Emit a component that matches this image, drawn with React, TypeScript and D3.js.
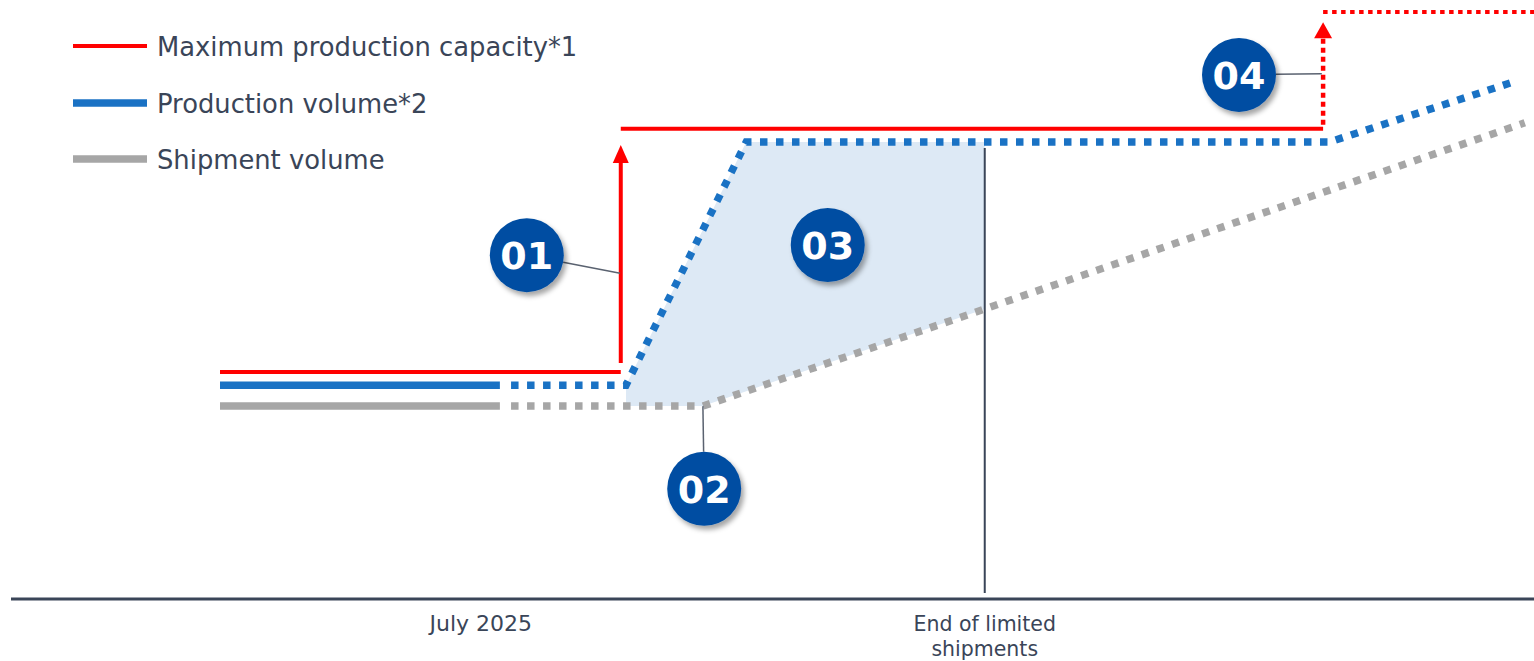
import React from "react";
import * as d3 from "d3";

// ---- data (x: time units, y: volume index) ----
type P = [number, number];

const capacityActual: P[] = [[0, 37.9], [6.1, 37.9]];
const capacityStep: P[] = [[6.1, 39.4], [6.1, 75.8]];
const capacityAfter: P[] = [[6.1, 78.5], [16.79, 78.5]];
const capacityPlanStep: P[] = [[16.79, 78.5], [16.79, 96.3]];
const capacityPlan: P[] = [[16.79, 98.0], [20, 98.0]];

const productionActual: P[] = [[0, 35.7], [4.26, 35.7]];
const productionPlan: P[] = [[4.43, 35.7], [6.18, 35.7], [8.01, 76.3], [16.89, 76.3], [19.68, 86.3]];

const shipmentActual: P[] = [[0, 32.2], [4.26, 32.2]];
const shipmentPlan: P[] = [[4.43, 32.2], [7.35, 32.2], [19.86, 79.5]];

const gapStart = 6.18;
const endOfLimited = 11.64;
const markerTop = 75.3;
const markerBottom = 1.0;

const tickValues = [3.97, endOfLimited];
const tickLabels = [["July 2025"], ["End of limited", "shipments"]];

const legendLabels = ["Maximum production capacity*1", "Production volume*2", "Shipment volume"];

const callouts = [
  { label: "01", t: 4.67, v: 57.4, target: [6.09, 54.4] as P | null },
  { label: "02", t: 7.37, v: 18.4, target: [7.35, 32.2] as P | null },
  { label: "03", t: 9.25, v: 59.1, target: null as P | null },
  { label: "04", t: 15.51, v: 87.5, target: [16.77, 87.7] as P | null },
];

// ---- styles ----
const RED = "#ff0000";
const BLUE = "#1a72c4";
const GRAY = "#a6a6a6";
const FILL = "#dde9f5";
const DARK = "#3a4558";
const CIRCLE = "#034ea2";
const FONT = "'DejaVu Sans', Verdana, sans-serif";

const W = 1534;
const H = 661;

function interp(series: P[], t: number): number {
  for (let i = 0; i < series.length - 1; i++) {
    const [t0, v0] = series[i];
    const [t1, v1] = series[i + 1];
    if (t >= t0 && t <= t1) {
      if (t1 === t0) return v1;
      return v0 + ((t - t0) / (t1 - t0)) * (v1 - v0);
    }
  }
  return series[series.length - 1][1];
}

export default function App() {
  const x = d3.scaleLinear().domain([0, 20]).range([220, 1534]);
  const y = d3.scaleLinear().domain([0, 100]).range([599, 0]);
  const line = d3.line<P>().x((d) => x(d[0])).y((d) => y(d[1]));

  const fillTs = [gapStart, 7.35, 8.01, endOfLimited];
  const area = d3
    .area<number>()
    .x((t) => x(t))
    .y0((t) => y(interp(shipmentPlan, t)))
    .y1((t) => y(interp(productionPlan, t)));

  const legendColors = [RED, BLUE, GRAY];
  const legendWidths = [4, 7.5, 7.5];
  const legendY = [46, 103, 159];

  const R = 37;

  return (
    <svg
      width={W}
      height={H}
      style={{ position: "absolute", left: 0, top: 0, display: "block" }}
    >
      <defs>
        <filter id="shadow" x="-40%" y="-40%" width="180%" height="180%">
          <feDropShadow dx="3" dy="4" stdDeviation="2.5" floodColor="#000" floodOpacity="0.35" />
        </filter>
      </defs>
      <rect width={W} height={H} fill="#fff" />

      {/* gap area */}
      <path d={area(fillTs) || ""} fill={FILL} />

      {/* end of limited shipments marker */}
      <line x1={x(endOfLimited)} x2={x(endOfLimited)} y1={y(markerTop)} y2={y(markerBottom)} stroke={DARK} strokeWidth={2} />

      {/* axis */}
      <line x1={11} x2={W} y1={y(0)} y2={y(0)} stroke={DARK} strokeWidth={3} />
      {tickValues.map((t, i) => (
        <text key={i} x={x(t)} y={631} textAnchor="middle" fontFamily={FONT} fontSize={i === 0 ? 22 : 20.5} fill={DARK}>
          {tickLabels[i].map((s, j) => (
            <tspan key={j} x={x(t)} dy={j === 0 ? 0 : 25}>{s}</tspan>
          ))}
        </text>
      ))}

      {/* shipment */}
      <path d={line(shipmentActual) || ""} fill="none" stroke={GRAY} strokeWidth={7.5} />
      <path d={line(shipmentPlan) || ""} fill="none" stroke={GRAY} strokeWidth={7.5} strokeDasharray="7.5 8.5" />

      {/* production */}
      <path d={line(productionActual) || ""} fill="none" stroke={BLUE} strokeWidth={7.5} />
      <path d={line(productionPlan) || ""} fill="none" stroke={BLUE} strokeWidth={7.5} strokeDasharray="7.5 8.5" />

      {/* capacity */}
      <path d={line(capacityActual) || ""} fill="none" stroke={RED} strokeWidth={4} />
      <path d={line(capacityAfter) || ""} fill="none" stroke={RED} strokeWidth={4} />
      {/* solid arrow */}
      <line x1={x(capacityStep[0][0])} x2={x(capacityStep[1][0])} y1={y(capacityStep[0][1])} y2={y(capacityStep[1][1]) + 16} stroke={RED} strokeWidth={4} />
      <path
        d={`M${x(capacityStep[1][0]) - 8},${y(capacityStep[1][1]) + 18} L${x(capacityStep[1][0])},${y(capacityStep[1][1])} L${x(capacityStep[1][0]) + 8},${y(capacityStep[1][1]) + 18} Z`}
        fill={RED}
      />
      {/* dotted arrow */}
      <line x1={x(capacityPlanStep[0][0])} x2={x(capacityPlanStep[1][0])} y1={y(capacityPlanStep[0][1]) - 4} y2={y(capacityPlanStep[1][1]) + 16} stroke={RED} strokeWidth={4.5} strokeDasharray="5 4" />
      <path
        d={`M${x(capacityPlanStep[1][0]) - 9},${y(capacityPlanStep[1][1]) + 16} L${x(capacityPlanStep[1][0])},${y(capacityPlanStep[1][1])} L${x(capacityPlanStep[1][0]) + 9},${y(capacityPlanStep[1][1]) + 16} Z`}
        fill={RED}
      />
      <path d={line(capacityPlan) || ""} fill="none" stroke={RED} strokeWidth={4} strokeDasharray="4.5 4.5" />

      {/* callouts */}
      {callouts.map((c) => {
        const cx = x(c.t);
        const cy = y(c.v);
        let leader = null;
        if (c.target) {
          const tx = x(c.target[0]);
          const ty = y(c.target[1]);
          const dx = tx - cx;
          const dy = ty - cy;
          const len = Math.sqrt(dx * dx + dy * dy);
          leader = (
            <line x1={cx + (dx / len) * R} y1={cy + (dy / len) * R} x2={tx} y2={ty} stroke="#5a6270" strokeWidth={1.5} />
          );
        }
        return (
          <g key={c.label}>
            {leader}
            <circle cx={cx} cy={cy} r={R} fill={CIRCLE} filter="url(#shadow)" />
            <text x={cx} y={cy} dy="0.37em" textAnchor="middle" fontFamily={FONT} fontWeight="bold" fontSize={38} fill="#fff">
              {c.label}
            </text>
          </g>
        );
      })}

      {/* legend */}
      {legendLabels.map((s, i) => (
        <g key={s}>
          <line x1={73} x2={147} y1={legendY[i]} y2={legendY[i]} stroke={legendColors[i]} strokeWidth={legendWidths[i]} />
          <text x={157} y={legendY[i] + 10} fontFamily={FONT} fontSize={25.8} fill={DARK}>{s}</text>
        </g>
      ))}
    </svg>
  );
}
